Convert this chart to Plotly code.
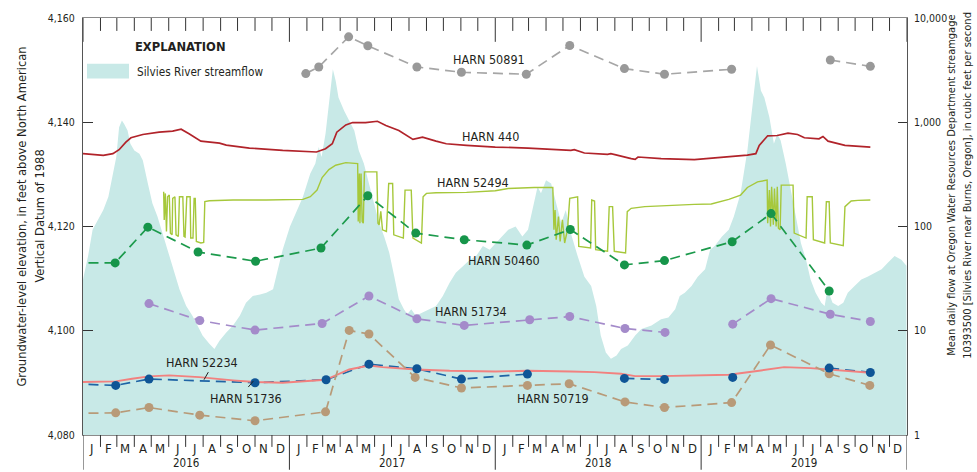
import plotly.graph_objects as go

# ---------------------------------------------------------------------------
# Silvies River mean daily streamflow, cubic feet per second
flow_dates = [
    "2016-01-01", "2016-01-10", "2016-01-18", "2016-01-27", "2016-02-06", "2016-02-15",
    "2016-02-23", "2016-02-29", "2016-03-05", "2016-03-10", "2016-03-14", "2016-03-20",
    "2016-03-25", "2016-04-01", "2016-04-10", "2016-04-16", "2016-04-25", "2016-05-03",
    "2016-05-12", "2016-05-21", "2016-05-30", "2016-06-08", "2016-06-20", "2016-07-02",
    "2016-07-13", "2016-07-22", "2016-07-31", "2016-08-12", "2016-08-21", "2016-08-30",
    "2016-09-11", "2016-09-23", "2016-10-05", "2016-10-16", "2016-10-28", "2016-11-10",
    "2016-11-21", "2016-12-03", "2016-12-12", "2016-12-20", "2017-01-02", "2017-01-14",
    "2017-01-25", "2017-02-07", "2017-02-16", "2017-02-22", "2017-02-27", "2017-03-06",
    "2017-03-15", "2017-03-19", "2017-03-24", "2017-03-29", "2017-04-08", "2017-04-17",
    "2017-04-26", "2017-05-04", "2017-05-13", "2017-05-22", "2017-05-31", "2017-06-09",
    "2017-06-18", "2017-06-27", "2017-07-06", "2017-07-14", "2017-07-23", "2017-07-29",
    "2017-08-05", "2017-08-13", "2017-08-25", "2017-09-07", "2017-09-18", "2017-09-30",
    "2017-10-12", "2017-10-23", "2017-11-05", "2017-11-17", "2017-11-28", "2017-12-10",
    "2017-12-22", "2018-01-01", "2018-01-13", "2018-01-24", "2018-02-06", "2018-02-18",
    "2018-02-28", "2018-03-11", "2018-03-17", "2018-03-23", "2018-04-01", "2018-04-10",
    "2018-04-19", "2018-04-28", "2018-05-06", "2018-05-15", "2018-05-27", "2018-06-08",
    "2018-06-20", "2018-06-29", "2018-07-07", "2018-07-16", "2018-07-25", "2018-08-04",
    "2018-08-12", "2018-08-24", "2018-09-06", "2018-09-17", "2018-10-05", "2018-10-22",
    "2018-11-04", "2018-11-16", "2018-11-24", "2018-12-03", "2018-12-15", "2018-12-26",
    "2019-01-08", "2019-01-17", "2019-01-25", "2019-02-07", "2019-02-19", "2019-02-28",
    "2019-03-12", "2019-03-24", "2019-04-03", "2019-04-10", "2019-04-17", "2019-04-23",
    "2019-05-02", "2019-05-10", "2019-05-16", "2019-05-22", "2019-05-31", "2019-06-09",
    "2019-06-18", "2019-06-27", "2019-07-06", "2019-07-14", "2019-07-23", "2019-08-02",
    "2019-08-08", "2019-08-13", "2019-08-22", "2019-09-01", "2019-09-10", "2019-09-18",
    "2019-09-30", "2019-10-12", "2019-10-23", "2019-11-05", "2019-11-17", "2019-11-28",
    "2019-12-10", "2019-12-22", "2019-12-31",
]
flow_cfs = [
    31, 52, 93, 116, 144, 193,
    322, 464, 896, 1037, 964, 833,
    622, 537, 499, 431, 259, 167,
    125, 86, 60, 39, 25, 17.3,
    13.9, 11.2, 9.0, 7.5, 6.7, 8.0,
    9.6, 11.2, 13.9, 18.6, 21.5, 22.3,
    23.2, 25, 39, 60, 100, 144,
    193, 322, 401, 578, 464, 774,
    2317, 3221, 2494, 1729, 1292, 1037,
    833, 537, 401, 259, 167, 108,
    80, 56, 33, 20, 16.1, 14.4,
    16.1, 13.9, 15.0, 16.1, 17.3, 21.5,
    28.8, 36, 42, 48, 52, 65,
    60, 69, 80, 93, 100, 80,
    93, 167, 240, 208, 278, 259,
    167, 108, 144, 86, 52, 33,
    26.8, 17.3, 9.0, 6.2, 5.4, 5.8,
    6.7, 7.2, 9.0, 10.4, 11.2, 12.9,
    13.4, 16.1, 21.5, 23.2, 26.8, 33,
    39, 60, 65, 80, 93, 125,
    208, 537, 1607, 3467, 2004, 1729,
    1117, 622, 774, 668, 401, 223,
    125, 69, 48, 31, 23.2, 18.6,
    17.3, 25, 18.6, 17.3, 18.6, 23.2,
    26.8, 31, 33, 36, 39, 45,
    52, 48, 42,
]

# ---------------------------------------------------------------------------
# Continuous groundwater-level records, feet above NAVD 88
harn440_dates = [
    "2016-01-01", "2016-02-06", "2016-02-23", "2016-03-05", "2016-03-17", "2016-03-26",
    "2016-04-16", "2016-05-15", "2016-06-08", "2016-06-23", "2016-07-07", "2016-07-28",
    "2016-08-30", "2016-09-11", "2016-10-22", "2016-12-20", "2017-02-18", "2017-03-06",
    "2017-03-18", "2017-03-26", "2017-04-11", "2017-04-23", "2017-05-16", "2017-06-06",
    "2017-06-21", "2017-07-14", "2017-08-08", "2017-08-25", "2017-09-18", "2017-10-06",
    "2017-11-11", "2018-01-01", "2018-02-28", "2018-05-15", "2018-05-21", "2018-06-08",
    "2018-07-19", "2018-07-25", "2018-08-30", "2018-09-06", "2018-09-11", "2018-10-22",
    "2018-12-20", "2019-02-18", "2019-03-24", "2019-04-08", "2019-04-14", "2019-04-29",
    "2019-05-16", "2019-06-04", "2019-06-21", "2019-07-03", "2019-07-29", "2019-08-05",
    "2019-08-14", "2019-09-13", "2019-10-28",
]
harn440_elev = [
    4133.97, 4133.65, 4133.97, 4134.73, 4136.19, 4137.02,
    4137.65, 4138.10, 4138.29, 4138.67, 4137.78, 4136.38,
    4136.00, 4135.62, 4135.05, 4134.60, 4134.29, 4134.92,
    4135.87, 4138.10, 4139.49, 4139.94, 4139.94, 4140.19,
    4139.37, 4138.41, 4136.70, 4137.14, 4136.38, 4135.87,
    4135.56, 4135.24, 4135.05, 4134.60, 4134.73, 4134.10,
    4133.84, 4133.97, 4133.02, 4132.89, 4133.33, 4133.02,
    4132.83, 4133.33, 4133.71, 4133.97, 4135.56, 4137.40,
    4137.46, 4137.90, 4137.65, 4137.02, 4136.83, 4137.27,
    4136.38, 4135.56, 4135.24,
]

harn52494_dates = [
    "2016-05-23", "2016-05-24", "2016-05-26", "2016-05-28", "2016-05-30", "2016-06-02",
    "2016-06-04", "2016-06-07", "2016-06-08", "2016-06-12", "2016-06-14", "2016-06-18",
    "2016-06-20", "2016-06-26", "2016-06-28", "2016-06-30", "2016-07-03", "2016-07-09",
    "2016-07-10", "2016-07-14", "2016-07-16", "2016-07-18", "2016-07-20", "2016-07-28",
    "2016-08-02", "2016-08-04", "2016-08-12", "2016-09-23", "2016-11-21", "2017-01-25",
    "2017-02-07", "2017-02-19", "2017-02-28", "2017-03-12", "2017-03-24", "2017-04-11",
    "2017-05-02", "2017-05-03", "2017-05-05", "2017-05-06", "2017-05-08", "2017-05-10",
    "2017-05-12", "2017-05-14", "2017-06-05", "2017-06-07", "2017-06-09", "2017-06-12",
    "2017-06-15", "2017-06-22", "2017-06-26", "2017-07-03", "2017-07-05", "2017-07-22",
    "2017-07-25", "2017-08-05", "2017-08-08", "2017-08-23", "2017-08-26", "2017-09-01",
    "2017-09-18", "2017-11-11", "2018-01-01", "2018-01-24", "2018-03-11", "2018-04-10",
    "2018-04-13", "2018-04-15", "2018-04-17", "2018-04-19", "2018-04-23", "2018-04-26",
    "2018-04-30", "2018-05-04", "2018-05-09", "2018-05-13", "2018-05-27", "2018-05-29",
    "2018-06-19", "2018-06-21", "2018-06-26", "2018-06-28", "2018-07-19", "2018-07-22",
    "2018-07-28", "2018-07-31", "2018-08-20", "2018-08-23", "2018-08-30", "2018-09-23",
    "2018-10-22", "2018-12-20", "2019-01-19", "2019-02-19", "2019-03-12", "2019-03-24",
    "2019-04-11", "2019-04-28", "2019-04-29", "2019-05-02", "2019-05-04", "2019-05-06",
    "2019-05-09", "2019-05-11", "2019-05-14", "2019-05-16", "2019-05-18", "2019-05-21",
    "2019-05-23", "2019-06-03", "2019-06-13", "2019-06-15", "2019-07-06", "2019-07-08",
    "2019-07-17", "2019-07-19", "2019-08-08", "2019-08-11", "2019-08-16", "2019-08-18",
    "2019-09-10", "2019-09-13", "2019-09-24", "2019-10-06", "2019-10-28",
]
harn52494_elev = [
    4126.67, 4121.27, 4126.35, 4119.05, 4125.71, 4126.03,
    4118.73, 4118.41, 4125.40, 4125.71, 4118.41, 4118.10,
    4125.71, 4125.71, 4118.10, 4117.97, 4125.71, 4125.71,
    4117.78, 4117.78, 4125.40, 4125.40, 4117.14, 4116.83,
    4116.95, 4124.76, 4124.95, 4125.08, 4125.08, 4125.21,
    4125.71, 4126.98, 4129.40, 4130.92, 4131.75, 4132.25,
    4132.06, 4120.95, 4130.16, 4120.63, 4130.16, 4120.95,
    4120.63, 4130.48, 4130.48, 4120.63, 4120.32, 4122.90,
    4119.37, 4119.05, 4128.25, 4128.25, 4118.41, 4117.78,
    4126.98, 4126.98, 4117.78, 4116.83, 4125.71, 4126.35,
    4126.48, 4126.54, 4126.86, 4127.30, 4127.49, 4127.62,
    4127.49, 4119.37, 4123.17, 4117.46, 4121.90, 4117.14,
    4121.27, 4116.83, 4119.37, 4125.40, 4125.71, 4116.19,
    4115.87, 4125.08, 4124.89, 4115.56, 4115.24, 4123.81,
    4123.81, 4115.24, 4114.92, 4122.86, 4123.49, 4123.81,
    4124.00, 4124.25, 4124.32, 4125.21, 4126.03, 4127.49,
    4128.57, 4128.89, 4120.63, 4126.98, 4120.00, 4127.62,
    4120.32, 4127.30, 4120.00, 4127.62, 4119.68, 4119.37,
    4127.94, 4127.94, 4127.94, 4118.73, 4117.78, 4125.71,
    4125.71, 4117.46, 4116.83, 4124.76, 4124.76, 4116.83,
    4116.32, 4123.81, 4124.89, 4125.02, 4125.08,
]

harn52234_dates = [
    "2016-01-01", "2016-02-28", "2016-03-28", "2016-04-27", "2016-06-02", "2016-07-25",
    "2016-09-23", "2016-11-01", "2016-12-20", "2017-02-18", "2017-03-06", "2017-03-24",
    "2017-04-17", "2017-05-22", "2017-06-15", "2017-08-13", "2017-10-12", "2018-01-01",
    "2018-02-28", "2018-05-15", "2018-06-26", "2018-08-12", "2018-09-06", "2018-10-22",
    "2018-12-20", "2019-02-19", "2019-04-17", "2019-05-28", "2019-07-14", "2019-08-19",
    "2019-10-28",
]
harn52234_elev = [
    4090.16, 4090.29, 4090.79, 4091.24, 4091.43, 4091.11,
    4090.48, 4090.16, 4090.03, 4090.48, 4090.60, 4091.43,
    4092.57, 4093.33, 4093.02, 4092.57, 4092.32, 4092.19,
    4092.32, 4092.19, 4092.06, 4091.75, 4091.30, 4091.30,
    4091.43, 4091.56, 4092.38, 4093.02, 4092.83, 4092.57,
    4091.94,
]

# ---------------------------------------------------------------------------
# Periodic (field) groundwater-level measurements, feet above NAVD 88
# None marks a visit without a measurement at that well.
harn50891_dates = [
    "2017-01-30", "2017-02-22", "2017-04-16", "2017-05-20", "2017-08-15", "2017-11-02",
    "2018-02-25", "2018-05-13", "2018-08-18", "2018-10-28", "2019-02-24", "2019-05-13",
    "2019-08-18", "2019-10-28",
]
harn50891_elev = [
    4149.33, 4150.60, 4156.38, 4154.67, 4150.60, 4149.59,
    4149.21, 4154.73, 4150.29, 4149.21, 4150.16, None,
    4151.94, 4150.73,
]

harn50460_dates = [
    "2015-11-15", "2016-02-27", "2016-04-25", "2016-07-23", "2016-11-02", "2017-02-26",
    "2017-05-20", "2017-08-13", "2017-11-07", "2018-02-26", "2018-05-14", "2018-08-18",
    "2018-10-28", "2019-02-25", "2019-05-05", "2019-08-16",
]
harn50460_elev = [
    4113.00, 4113.02, 4119.87, 4115.11, 4113.33, 4115.87,
    4125.90, 4118.73, 4117.46, 4116.44, 4119.43, 4112.63,
    4113.46, 4117.08, 4122.48, 4107.62,
]

harn51734_dates = [
    "2016-04-27", "2016-07-26", "2016-11-01", "2017-02-28", "2017-05-22", "2017-08-15",
    "2017-11-07", "2018-03-03", "2018-05-13", "2018-08-19", "2018-10-29", "2018-12-20",
    "2019-02-26", "2019-05-05", "2019-08-18", "2019-10-28",
]
harn51734_elev = [
    4105.21, 4101.97, 4100.13, 4101.40, 4106.67, 4102.29,
    4101.02, 4102.10, 4102.73, 4100.44, 4099.68, None,
    4101.27, 4106.16, 4103.17, 4101.78,
]

harn51736_dates = [
    "2015-11-15", "2016-02-28", "2016-04-27", "2016-11-01", "2017-03-07", "2017-05-22",
    "2017-08-15", "2017-11-02", "2018-02-27", "2018-05-13", "2018-08-18", "2018-10-28",
    "2018-12-20", "2019-02-26", "2019-05-05", "2019-08-16", "2019-10-28",
]
harn51736_elev = [
    4089.90, 4089.52, 4090.73, 4090.03, 4090.60, 4093.59,
    4092.70, 4090.73, 4091.68, None, 4090.86, 4090.67,
    None, 4091.05, None, 4092.83, 4092.00,
]

harn50719_dates = [
    "2015-11-15", "2016-02-28", "2016-04-27", "2016-07-26", "2016-11-01", "2017-03-06",
    "2017-04-17", "2017-05-22", "2017-08-12", "2017-11-02", "2018-02-27", "2018-05-12",
    "2018-08-19", "2018-10-28", "2019-02-24", "2019-05-04", "2019-08-16", "2019-10-27",
]
harn50719_elev = [
    4084.10, 4084.25, 4085.27, 4083.81, 4082.73, 4084.44,
    4100.06, 4099.37, 4091.05, 4089.02, 4089.52, 4089.84,
    4086.35, 4085.27, 4086.22, 4097.27, 4091.75, 4089.52,
]

# Axis labelling
month_letters = ["J", "F", "M", "A", "M", "J", "J", "A", "S", "O", "N", "D"]
years = [2016, 2017, 2018, 2019]
elev_ticks = [4080, 4100, 4120, 4140, 4160]
elev_tick_text = ["4,080", "4,100", "4,120", "4,140", "4,160"]
flow_ticks = [1, 10, 100, 1000, 10000]
flow_tick_text = ["1", "10", "100", "1,000", "10,000"]

# ---------------------------------------------------------------------------
FONT = "DejaVu Sans Condensed, Liberation Sans Narrow, sans-serif"
INK = "#231f20"
FILL = "#c8e9e7"
FRAME = "#8a8a8a"

W, H = 977, 472
L, R, T, B = 83, 70, 15, 37
PW, PH = W - L - R, H - T - B


def px(x):
    return (x - L) / PW


def py(y):
    return (H - B - y) / PH


fig = go.Figure()

# Streamflow, shaded down to the bottom of the log axis
fig.add_trace(go.Scatter(
    x=flow_dates + [flow_dates[-1], flow_dates[0]],
    y=flow_cfs + [1, 1],
    fill="toself", fillcolor=FILL, mode="lines", line=dict(width=0),
    yaxis="y", hoverinfo="skip", showlegend=False,
))

DASH = "10px,6px"

# Dashed connector of HARN 51736 sits beneath the HARN 52234 record
fig.add_trace(go.Scatter(x=harn51736_dates, y=harn51736_elev, mode="lines", yaxis="y2",
                         line=dict(color="#1f64a5", width=1.7, dash=DASH),
                         showlegend=False, hoverinfo="skip"))

# Continuous records
for xs, ys, col, w in [
    (harn440_dates, harn440_elev, "#b1232a", 1.7),
    (harn52494_dates, harn52494_elev, "#a6c83b", 1.4),
    (harn52234_dates, harn52234_elev, "#f2817f", 1.9),
]:
    fig.add_trace(go.Scatter(x=xs, y=ys, mode="lines", yaxis="y2",
                             line=dict(color=col, width=w), showlegend=False))

# Periodic measurements
for xs, ys, lcol, mcol, mode in [
    (harn50891_dates, harn50891_elev, "#a6a6a6", "#999999", "lines+markers"),
    (harn50460_dates, harn50460_elev, "#1c9a4c", "#16954a", "lines+markers"),
    (harn51734_dates, harn51734_elev, "#a48bca", "#a48bca", "lines+markers"),
    (harn50719_dates, harn50719_elev, "#b89a78", "#b89a78", "lines+markers"),
    (harn51736_dates, harn51736_elev, "#1f64a5", "#0f5596", "markers"),
]:
    fig.add_trace(go.Scatter(
        x=xs, y=ys, mode=mode, yaxis="y2",
        line=dict(color=lcol, width=1.7, dash=DASH),
        marker=dict(color=mcol, size=9, line=dict(width=0)),
        showlegend=False,
    ))

shapes = []
annotations = []

# Month and year tick marks along the top and bottom edges
for i in range(49):
    d = f"{2016 + i // 12}-{i % 12 + 1:02d}-01"
    yearly = i % 12 == 0
    shapes.append(dict(type="line", xref="x", yref="paper", x0=d, x1=d,
                       y0=0, y1=py(470 if yearly else 447), line=dict(color="#333", width=1)))
    shapes.append(dict(type="line", xref="x", yref="paper", x0=d, x1=d,
                       y0=1, y1=py(39 if yearly else 28), line=dict(color="#333", width=1)))

for i in range(48):
    yr = 2016 + i // 12
    mo = i % 12 + 1
    annotations.append(dict(x=f"{yr}-{mo:02d}-16", y=py(448.5), xref="x", yref="paper",
                            text=month_letters[i % 12], showarrow=False,
                            font=dict(family=FONT, size=13, color=INK),
                            xanchor="center", yanchor="middle"))
for yr in years:
    annotations.append(dict(x=f"{yr}-07-02", y=py(463.5), xref="x", yref="paper",
                            text=str(yr), showarrow=False,
                            font=dict(family=FONT, size=11.5, color=INK),
                            xanchor="center", yanchor="middle"))

# Axis titles
for txt, x in [("Groundwater-level elevation, in feet above North American", 22),
               ("Vertical Datum of 1988", 40)]:
    annotations.append(dict(x=px(x), y=py(215), xref="paper", yref="paper", text=txt,
                            textangle=-90, showarrow=False,
                            font=dict(family=FONT, size=12.8, color=INK),
                            xanchor="center", yanchor="middle"))
for txt, x in [("Mean daily flow at Oregon Water Resources Department streamgage", 952),
               ("10393500 [Silvies River near Burns, Oregon], in cubic feet per second", 968)]:
    annotations.append(dict(x=px(x), y=py(183), xref="paper", yref="paper", text=txt,
                            textangle=-90, showarrow=False,
                            font=dict(family=FONT, size=11, color=INK),
                            xanchor="center", yanchor="middle"))

# Explanation block
annotations.append(dict(x=px(133), y=py(44), xref="paper", yref="paper",
                        text="<b>EXPLANATION</b>", showarrow=False,
                        font=dict(family=FONT, size=12.8, color=INK),
                        xanchor="left", yanchor="middle"))
shapes.append(dict(type="rect", xref="paper", yref="paper", x0=px(87), x1=px(129),
                   y0=py(76), y1=py(61), fillcolor=FILL, line=dict(width=0)))
annotations.append(dict(x=px(135), y=py(69), xref="paper", yref="paper",
                        text="Silvies River streamflow", showarrow=False,
                        font=dict(family=FONT, size=11.7, color=INK),
                        xanchor="left", yanchor="middle"))

# Well labels
for txt, x, y in [
    ("HARN 50891", 489, 57), ("HARN 440", 490, 134), ("HARN 52494", 473, 181),
    ("HARN 50460", 504, 259), ("HARN 51734", 471, 311), ("HARN 52234", 202, 362),
    ("HARN 51736", 246, 398), ("HARN 50719", 553, 398),
]:
    annotations.append(dict(x=px(x), y=py(y), xref="paper", yref="paper", text=txt,
                            showarrow=False, font=dict(family=FONT, size=12.5, color=INK),
                            xanchor="center", yanchor="middle"))

# Leader lines
for x0, y0, x1, y1 in [(208.3, 371.7, 204, 379.3), (248.3, 386.7, 253.3, 380.7)]:
    shapes.append(dict(type="line", xref="paper", yref="paper",
                       x0=px(x0), y0=py(y0), x1=px(x1), y1=py(y1),
                       line=dict(color=INK, width=1)))

fig.update_layout(
    width=W, height=H,
    margin=dict(l=L, r=R, t=T, b=B, pad=0),
    paper_bgcolor="white", plot_bgcolor="white",
    showlegend=False,
    xaxis=dict(type="date", range=["2016-01-01", "2020-01-01"], showgrid=False,
               zeroline=False, showticklabels=False, ticks="",
               showline=True, linecolor=FRAME, linewidth=1, mirror=True),
    yaxis=dict(type="log", range=[0, 4], side="right", showgrid=False, zeroline=False,
               tickvals=flow_ticks, ticktext=flow_tick_text, ticks="inside", ticklen=9,
               tickcolor="#333", tickwidth=1, ticklabelstandoff=4,
               tickfont=dict(family=FONT, size=10.5, color=INK),
               showline=True, linecolor="#555", linewidth=1),
    yaxis2=dict(overlaying="y", side="left", range=[4080, 4160], showgrid=False,
                zeroline=False, tickvals=elev_ticks, ticktext=elev_tick_text,
                ticks="inside", ticklen=10, tickcolor="#333", tickwidth=1,
                ticklabelstandoff=5,
                tickfont=dict(family=FONT, size=10.5, color=INK),
                showline=True, linecolor="#555", linewidth=1),
    shapes=shapes,
    annotations=annotations,
)

fig.write_html("out.html", config={"displayModeBar": False})
